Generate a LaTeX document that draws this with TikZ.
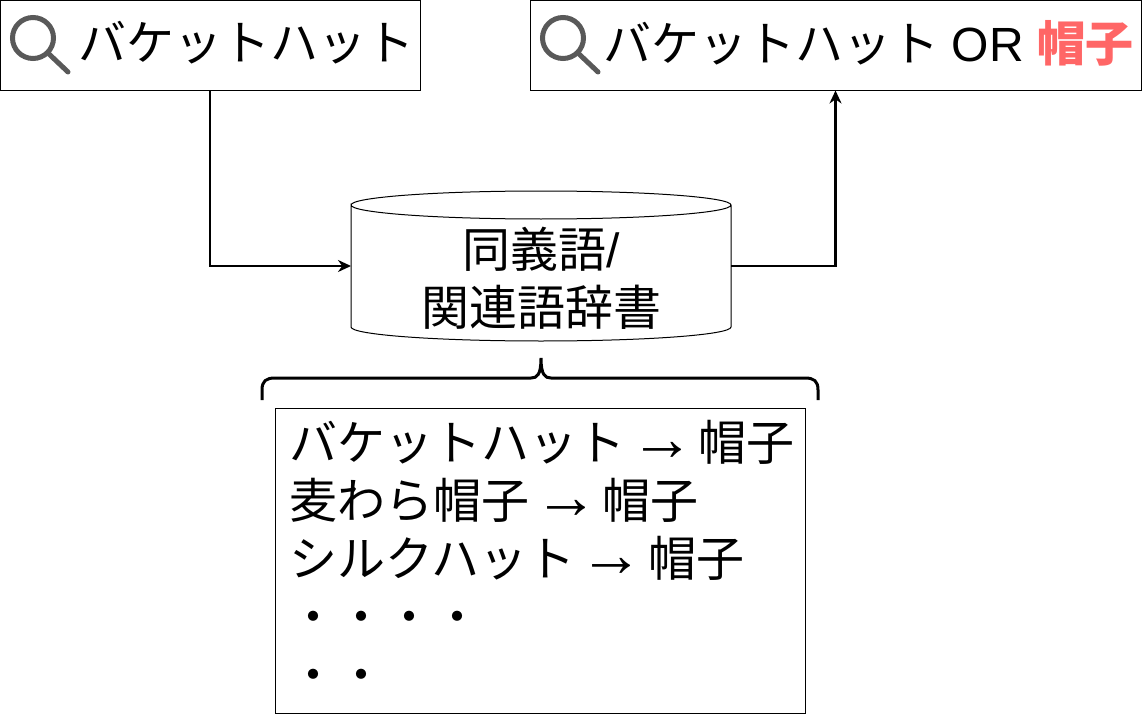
\documentclass[tikz,border=0pt]{standalone}
\usepackage{fontspec}
\setmainfont{Liberation Sans}
\newfontfamily\cjk{Noto Sans CJK JP}
\usetikzlibrary{shapes.geometric,arrows.meta,positioning}
\definecolor{iconcol}{HTML}{595959}
\definecolor{hitcol}{HTML}{FF6666}
\newcommand{\toarrow}{{\normalfont\hspace{4.5pt}\fontsize{64}{58}\selectfont→\hspace{4.5pt}}}
\tikzset{
	boxline/.style={draw=black,line width=1pt,inner sep=0pt,outer sep=0pt},
	bigtext/.style={inner sep=0pt,font=\fontsize{48}{58}\selectfont},
	lens/.style={circle,draw=iconcol,line width=5pt,minimum size=41pt,inner sep=0pt,outer sep=2.5pt},
	handle/.style={draw=iconcol,line width=5pt,line cap=round},
	flow/.style={draw=black,line width=2.5pt,-{Stealth[length=13pt,width=12pt]}},
}
\begin{document}
\begin{tikzpicture}[x=1pt,y=-1pt]
	\useasboundingbox (0,0) rectangle (1142,714);

	% search boxes
	\node [boxline,minimum width=420pt,minimum height=90pt] (query) at (210,45.5) {};
	\node [boxline,minimum width=611pt,minimum height=90pt] (expanded) at (835.5,45.5) {};
	\foreach \b/\x in {query/33, expanded/563}
	{
		\node [lens] (lens\b) at (\x,38) {};
		\coordinate (end\b) at ([xshift=35pt,yshift=-34pt]lens\b.center);
		\draw [handle] (lens\b.-45) -- (end\b);
	}
	\node [bigtext,anchor=west] (querytext) at (78,43) {\cjk バケットハット};
	\node [bigtext,anchor=west] (expandedtext) at (603,43) {\cjk バケットハット\ \hspace{2pt}\normalfont OR \cjk\bfseries\textcolor{hitcol}{帽子}};

	% dictionary
	\node [boxline,draw=none,minimum width=380pt,minimum height=150pt] (dict) at (541,266) {};
	\draw [line width=1pt] ([yshift=-14pt]dict.north west) arc[start angle=180,end angle=-180,x radius=190pt,y radius=14pt] -- ([yshift=14pt]dict.south west) arc[start angle=180,end angle=360,x radius=190pt,y radius=14pt] -- ([yshift=-14pt]dict.north east);
	\node [bigtext,align=center] (dicttext) at ([yshift=-12pt]dict.center) {{\cjk 同義語}/\\{\cjk 関連語辞書}};
	\draw [flow] (query.south) |- (dict.west);
	\draw [flow] (dict.east) -| (expanded.south);

	% brace
	\coordinate (tip) at (541,358);
	\coordinate (bl) at (262,400);
	\coordinate (br) at (818,400);
	\draw [line width=3pt] (bl) -- (262,390) .. controls (262,381) and (266,378) .. (275,378) -- (531,378) .. controls (537,378) and (541,375) .. (tip) .. controls (541,375) and (545,378) .. (551,378) -- (805,378) .. controls (814,378) and (818,381) .. (818,390) -- (br);

	% entries
	\node [boxline,minimum width=530pt,minimum height=305pt,anchor=north west] (entries) at (275.5,408) {};
	\node [bigtext,font=\fontsize{48}{58}\selectfont\cjk,align=left,anchor=north west] (entrytext) at ([xshift=14pt,yshift=-12pt]entries.north west) {バケットハット\toarrow 帽子\\麦わら帽子\toarrow 帽子\\シルクハット\toarrow 帽子\\・・・・\\・・};
\end{tikzpicture}
\end{document}
